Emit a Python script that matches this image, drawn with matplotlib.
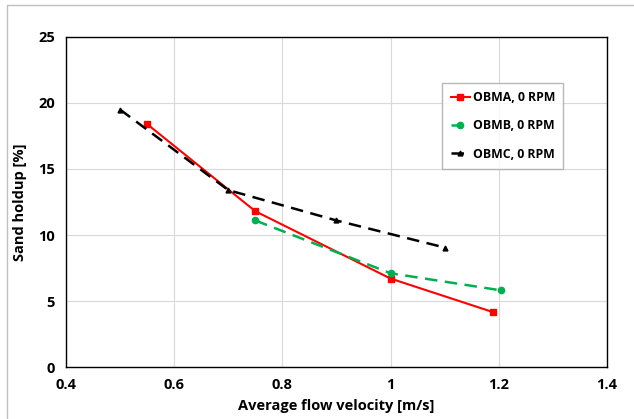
import matplotlib
matplotlib.use("Agg")
import matplotlib.pyplot as plt
from matplotlib.patches import Rectangle

# Sand holdup vs average flow velocity
obma_x = [0.55, 0.75, 1.0, 1.19]
obma_y = [18.4, 11.8, 6.7, 4.15]
obmb_x = [0.75, 1.0, 1.205]
obmb_y = [11.1, 7.1, 5.8]
obmc_x = [0.5, 0.7, 0.9, 1.1]
obmc_y = [19.5, 13.4, 11.1, 9.05]

x_ticks = [0.4, 0.6, 0.8, 1.0, 1.2, 1.4]
x_tick_labels = ["0.4", "0.6", "0.8", "1", "1.2", "1.4"]
y_ticks = [0, 5, 10, 15, 20, 25]

plt.rcParams['font.family'] = ['Open Sans', 'DejaVu Sans']

fig = plt.figure(figsize=(6.34, 4.19), dpi=100)
ax = fig.add_axes([0.1041, 0.1241, 0.8533, 0.7876])

ax.plot(obma_x, obma_y, color='#ff0000', lw=1.5, marker='s', ms=5, label='OBMA, 0 RPM')
ax.plot(obmb_x, obmb_y, color='#00b050', lw=1.8, ls=(0, (5, 3)), marker='o', ms=4.5, label='OBMB, 0 RPM')
ax.plot(obmc_x, obmc_y, color='black', lw=1.8, ls=(0, (5, 3)), marker='^', ms=3.5, label='OBMC, 0 RPM')

ax.set_xlim(0.4, 1.4)
ax.set_ylim(0, 25)
ax.set_xticks(x_ticks)
ax.set_xticklabels(x_tick_labels)
ax.set_yticks(y_ticks)
ax.tick_params(length=0, labelsize=10.5, pad=8)
for lbl in ax.get_xticklabels() + ax.get_yticklabels():
    lbl.set_fontweight('bold')
ax.grid(True, color='#d9d9d9', lw=0.8)
ax.set_axisbelow(True)
for sp in ax.spines.values():
    sp.set_color('black')
    sp.set_linewidth(1.0)

ax.set_xlabel('Average flow velocity [m/s]', fontsize=10.5, fontweight='bold', labelpad=5)
ax.set_ylabel('Sand holdup [%]', fontsize=10.5, fontweight='bold', labelpad=8)

leg = ax.legend(loc='upper left', bbox_to_anchor=(0.695, 0.862),
                prop={'weight': 'bold', 'size': 8.8}, frameon=True, fancybox=False,
                handlelength=1.6, borderpad=0.7, labelspacing=1.25, handletextpad=0.2,
                borderaxespad=0)
leg.get_frame().set_edgecolor('#a6a6a6')
leg.get_frame().set_linewidth(1.0)

# outer chart frame
fig.patches.append(Rectangle((0.011, -0.01), 0.995, 0.998, transform=fig.transFigure,
                             fill=False, edgecolor='#bfbfbf', lw=1.0))

fig.savefig('out.png', dpi=100)
